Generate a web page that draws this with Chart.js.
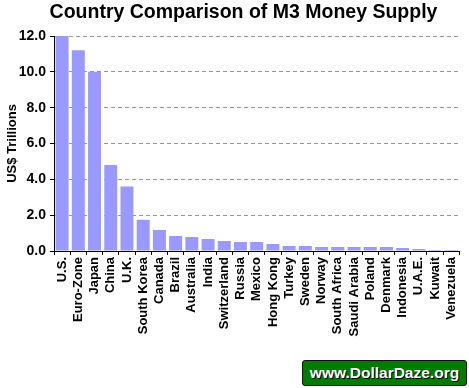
<!DOCTYPE html>
<html><head><meta charset="utf-8">
<script src="https://cdn.jsdelivr.net/npm/chart.js@4/dist/chart.umd.min.js"></script>
<style>
html,body{margin:0;padding:0;background:#fff;}
#wrap{position:relative;width:469px;height:388px;}
#wm{position:absolute;left:302px;top:360px;width:163px;height:24px;background:#037a03;border:1px solid #111;border-radius:3px;color:#fff;font:bold 15.5px "Liberation Sans",Arial,sans-serif;text-align:center;line-height:24px;text-shadow:1px 1px 0 #000;}
</style></head>
<body><div id="wrap"><canvas id="c" width="469" height="388"></canvas><div id="wm">www.DollarDaze.org</div></div>
<script>
const chartTitle = 'Country Comparison of M3 Money Supply';
const categories = ["U.S.","Euro-Zone","Japan","China","U.K.","South Korea","Canada","Brazil","Australia","India","Switzerland","Russia","Mexico","Hong Kong","Turkey","Sweden","Norway","South Africa","Saudi Arabia","Poland","Denmark","Indonesia","U.A.E.","Kuwait","Venezuela"];
const m3Values = [12.0,11.2,10.0,4.8,3.6,1.75,1.17,0.84,0.78,0.67,0.56,0.5,0.5,0.39,0.28,0.28,0.22,0.22,0.22,0.22,0.22,0.17,0.11,0.06,0.06];
const yTicks = [0,2,4,6,8,10,12];

const titlePlugin = {
  id: 'offsetTitle',
  afterDraw(chart) {
    const ctx = chart.ctx;
    ctx.save();
    ctx.font = 'bold 19.5px "Liberation Sans", Arial, sans-serif';
    ctx.fillStyle = '#000';
    ctx.textAlign = 'center';
    ctx.textBaseline = 'middle';
    ctx.fillText(chartTitle, 243.5, 13);
    ctx.restore();
  }
};

new Chart(document.getElementById('c'), {
  type: 'bar',
  data: { labels: categories, datasets: [{ data: m3Values, backgroundColor: '#9999FF', barPercentage: 0.8, categoryPercentage: 1.0 }] },
  options: {
    responsive: false, animation: false,
    layout: { padding: { left: 0, right: 4, top: 36, bottom: 0 } },
    plugins: {
      legend: { display: false }, tooltip: { enabled: false }, title: { display: false }
    },
    scales: {
      x: {
        grid: { display: true, drawOnChartArea: false, offset: true, color: '#000', tickLength: 4, tickColor: '#000' },
        border: { display: true, color: '#000', width: 1 },
        ticks: { minRotation: 90, maxRotation: 90, autoSkip: false, color: '#000', padding: 2,
          font: { family: '"Liberation Sans Narrow", "Liberation Sans", Arial, sans-serif', size: 13, weight: 'bold' } },
        afterFit: (s) => { s.height = 137; }
      },
      y: {
        min: 0, max: 12,
        afterBuildTicks: (s) => { s.ticks = yTicks.map(v => ({ value: v })); },
        grid: { color: (ctx) => ctx.tick && ctx.tick.value === 0 ? 'rgba(0,0,0,0)' : '#999', lineWidth: 1, tickLength: 4, tickColor: '#000', drawTicks: true },
        border: { display: true, color: '#000', width: 1, dash: [4, 3] },
        ticks: { color: '#000', padding: 4, callback: (v) => Number(v).toFixed(1),
          font: { family: '"Liberation Sans", Arial, sans-serif', size: 14, weight: 'bold' } },
        title: { display: true, text: 'US$ Trillions', color: '#000', padding: { top: 5, bottom: 2 },
          font: { family: '"Liberation Sans", Arial, sans-serif', size: 13, weight: 'bold' } },
        afterFit: (s) => { s.width = 54; }
      }
    }
  },
  plugins: [titlePlugin]
});
</script>
</body></html>
